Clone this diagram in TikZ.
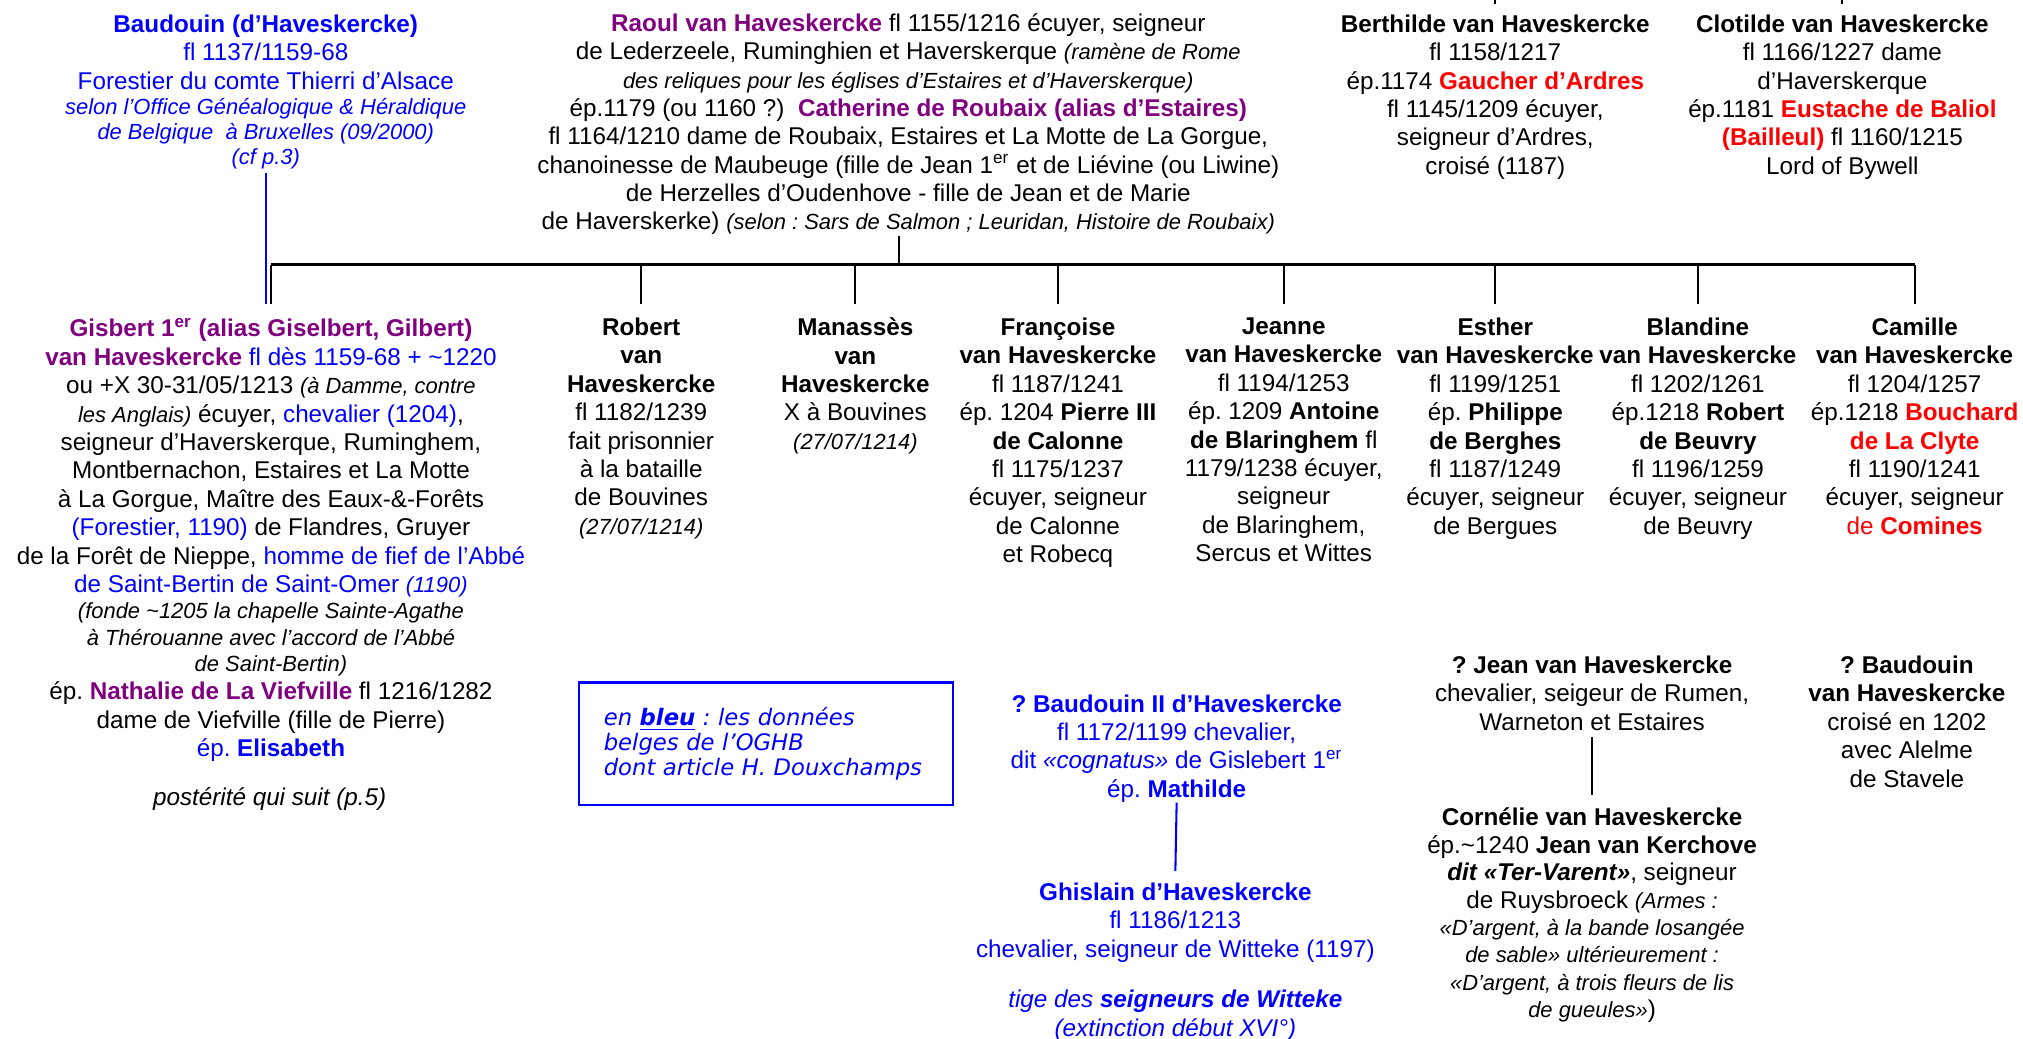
\documentclass[tikz,border=0pt]{standalone}
\usepackage{fontspec}
\setmainfont{Liberation Sans}
\newfontfamily\boxfont{DejaVu Sans}
\usetikzlibrary{positioning}

\definecolor{gblue}{RGB}{0,0,255}
\definecolor{gpurple}{RGB}{128,0,128}
\definecolor{gred}{RGB}{255,0,0}
\newcommand{\rem}[1]{{\fontsize{8.5}{11}\selectfont\itshape #1}}
\newcommand{\pu}[1]{\textcolor{gpurple}{\textbf{#1}}}
\newcommand{\rd}[1]{\textcolor{gred}{\textbf{#1}}}
\newcommand{\bl}[1]{\textcolor{gblue}{#1}}

\begin{document}
\frenchspacing
\begin{tikzpicture}[x=0.5pt,y=-0.5pt,
    pers/.style={align=center, anchor=north, inner sep=0pt,
      font=\fontsize{9.4}{11}\selectfont},
    lien/.style={line width=0.8pt}]
  \useasboundingbox (0,0) rectangle (1568,805);
  % generation des parents
  \node[pers, text=gblue] (bau) at (206,11) {\textbf{Baudouin (d’Haveskercke)}\\
    fl 1137/1159-68\\
    Forestier du comte Thierri d’Alsace\\[-1.2pt]
    \rem{selon l’Office Généalogique \& Héraldique}\\[-1.2pt]
    \rem{de Belgique \ à Bruxelles (09/2000)}\\[-1.2pt]
    \rem{(cf p.3)}};
  \node[pers] (raoul) at (704,10) {\pu{Raoul van Haveskercke} fl 1155/1216 écuyer, seigneur\\
    de Lederzeele, Ruminghien et Haverskerque \rem{(ramène de Rome}\\
    \rem{des reliques pour les églises d’Estaires et d’Haverskerque)}\\
    ép.1179 (ou 1160 ?) \ \pu{Catherine de Roubaix (alias d’Estaires)}\\
    fl 1164/1210 dame de Roubaix, Estaires et La Motte de La Gorgue,\\
    chanoinesse de Maubeuge (fille de Jean 1\textsuperscript{er} et de Liévine (ou Liwine)\\
    de Herzelles d’Oudenhove - fille de Jean et de Marie\\
    de Haverskerke) \rem{(selon : Sars de Salmon ; Leuridan, Histoire de Roubaix)}};
  \node[pers] (ber) at (1159,11) {\textbf{Berthilde van Haveskercke}\\
    fl 1158/1217\\
    ép.1174 \rd{Gaucher d’Ardres}\\
    fl 1145/1209 écuyer,\\
    seigneur d’Ardres,\\
    croisé (1187)};
  \node[pers] (clo) at (1428,11) {\textbf{Clotilde van Haveskercke}\\
    fl 1166/1227 dame\\
    d’Haverskerque\\
    ép.1181 \rd{Eustache de Baliol}\\
    \rd{(Bailleul)} fl 1160/1215\\
    Lord of Bywell};

  % enfants
  \node[pers] (gis) at (210,246) {\pu{Gisbert 1\textsuperscript{er} (alias Giselbert, Gilbert)}\\
    \pu{van Haveskercke} \bl{fl dès 1159-68 + \textasciitilde 1220}\\
    ou +X 30-31/05/1213 \rem{(à Damme, contre}\\
    \rem{les Anglais)} écuyer, \bl{chevalier (1204)},\\
    seigneur d’Haverskerque, Ruminghem,\\
    Montbernachon, Estaires et La Motte\\
    à La Gorgue, Maître des Eaux-\&-Forêts\\
    \bl{(Forestier, 1190)} de Flandres, Gruyer\\
    de la Forêt de Nieppe, \bl{homme de fief de l’Abbé}\\
    \bl{de Saint-Bertin de Saint-Omer \rem{(1190)}}\\[-0.8pt]
    \rem{(fonde \textasciitilde 1205 la chapelle Sainte-Agathe}\\[-0.8pt]
    \rem{à Thérouanne avec l’accord de l’Abbé}\\[-0.8pt]
    \rem{de Saint-Bertin)}\\
    ép. \pu{Nathalie de La Viefville} fl 1216/1282\\
    dame de Viefville (fille de Pierre)\\
    \bl{ép. \textbf{Elisabeth}}};
  \node[pers] (post) at (209,610) {\textit{postérité qui suit (p.5)}};
  \node[pers] (rob) at (497,246) {\textbf{Robert}\\ \textbf{van}\\ \textbf{Haveskercke}\\
    fl 1182/1239\\ fait prisonnier\\ à la bataille\\ de Bouvines\\ \rem{(27/07/1214)}};
  \node[pers] (man) at (663,246) {\textbf{Manassès}\\ \textbf{van}\\ \textbf{Haveskercke}\\
    X à Bouvines\\ \rem{(27/07/1214)}};
  \node[pers] (fra) at (820,246) {\textbf{Françoise}\\ \textbf{van Haveskercke}\\
    fl 1187/1241\\ ép. 1204 \textbf{Pierre III}\\ \textbf{de Calonne}\\
    fl 1175/1237\\ écuyer, seigneur\\ de Calonne\\ et Robecq};
  \node[pers] (jea) at (995,246) {\textbf{Jeanne}\\ \textbf{van Haveskercke}\\
    fl 1194/1253\\ ép. 1209 \textbf{Antoine}\\ \textbf{de Blaringhem} fl\\
    1179/1238 écuyer,\\ seigneur\\ de Blaringhem,\\ Sercus et Wittes};
  \node[pers] (est) at (1159,246) {\textbf{Esther}\\ \textbf{van Haveskercke}\\
    fl 1199/1251\\ ép. \textbf{Philippe}\\ \textbf{de Berghes}\\
    fl 1187/1249\\ écuyer, seigneur\\ de Bergues};
  \node[pers] (bla) at (1316,246) {\textbf{Blandine}\\ \textbf{van Haveskercke}\\
    fl 1202/1261\\ ép.1218 \textbf{Robert}\\ \textbf{de Beuvry}\\
    fl 1196/1259\\ écuyer, seigneur\\ de Beuvry};
  \node[pers] (cam) at (1484,246) {\textbf{Camille}\\ \textbf{van Haveskercke}\\
    fl 1204/1257\\ ép.1218 \rd{Bouchard}\\ \rd{de La Clyte}\\
    fl 1190/1241\\ écuyer, seigneur\\ \textcolor{gred}{de \textbf{Comines}}};

  % branches incertaines
  \node[draw=gblue, line width=0.8pt, minimum width=145pt, minimum height=47.5pt,
    text width=126pt, align=left, inner xsep=9.5pt, text=gblue,
    font=\boxfont\fontsize{8.8}{9.75}\selectfont\itshape] (leg) at (594,576.5)
    {en \underline{\textbf{bleu}} : les données\\ belges de l’OGHB\\ dont article H. Douxchamps};
  \node[pers, text=gblue] (b2) at (912,538) {\textbf{? Baudouin II d’Haveskercke}\\
    fl 1172/1199 chevalier,\\
    dit \textit{«cognatus»} de Gislebert 1\textsuperscript{er}\\
    ép. \textbf{Mathilde}};
  \node[pers, text=gblue] (ghi) at (911,684) {\textbf{Ghislain d’Haveskercke}\\
    fl 1186/1213\\
    chevalier, seigneur de Witteke (1197)};
  \node[pers, text=gblue] (tige) at (911,767) {\textit{tige des \textbf{seigneurs de Witteke}}\\
    \textit{(extinction début XVI°)}};
  \node[pers] (jean) at (1234,508) {\textbf{? Jean van Haveskercke}\\
    chevalier, seigeur de Rumen,\\
    Warneton et Estaires};
  \node[pers, font=\fontsize{9.4}{10.6}\selectfont] (cor) at (1234,626) {\textbf{Cornélie van Haveskercke}\\
    ép.\textasciitilde 1240 \textbf{Jean van Kerchove}\\
    \textbf{\textit{dit «Ter-Varent»}}, seigneur\\
    de Ruysbroeck \rem{(Armes :}\\
    \rem{«D’argent, à la bande losangée}\\
    \rem{de sable» ultérieurement :}\\
    \rem{«D’argent, à trois fleurs de lis}\\
    \rem{de gueules»})};
  \node[pers] (bau2) at (1478,508) {\textbf{? Baudouin}\\ \textbf{van Haveskercke}\\
    croisé en 1202\\ avec Alelme\\ de Stavele};

  % traits
  \coordinate (bar) at (0,205);
  \coordinate (haut) at (0,0);
  \coordinate (gtop) at ([yshift=5pt]gis.north);
  \coordinate (rl) at ([xshift=-3.5pt]raoul.south);
  \draw[lien, gblue] ([yshift=-61.5pt]bau.north) -- (bau.north |- gtop);
  \draw[lien] (rl) -- (rl |- bar);
  \draw[lien] (gis.north |- bar) -- (cam.north |- bar);
  \foreach \c in {gis,rob,man,fra,jea,est,bla,cam} {
    \draw[lien] (\c.north |- bar) -- ([yshift=5pt]\c.north);
  }
  \foreach \c in {ber,clo} {
    \draw[lien] (\c.north |- haut) -- ++(0,3);
  }
  \draw[lien, gblue] ([yshift=-42pt]b2.north) -- ([yshift=4.5pt]ghi.north);
  \draw[lien] ([yshift=-31.5pt]jean.north) -- ([yshift=5pt]cor.north);
\end{tikzpicture}
\end{document}
